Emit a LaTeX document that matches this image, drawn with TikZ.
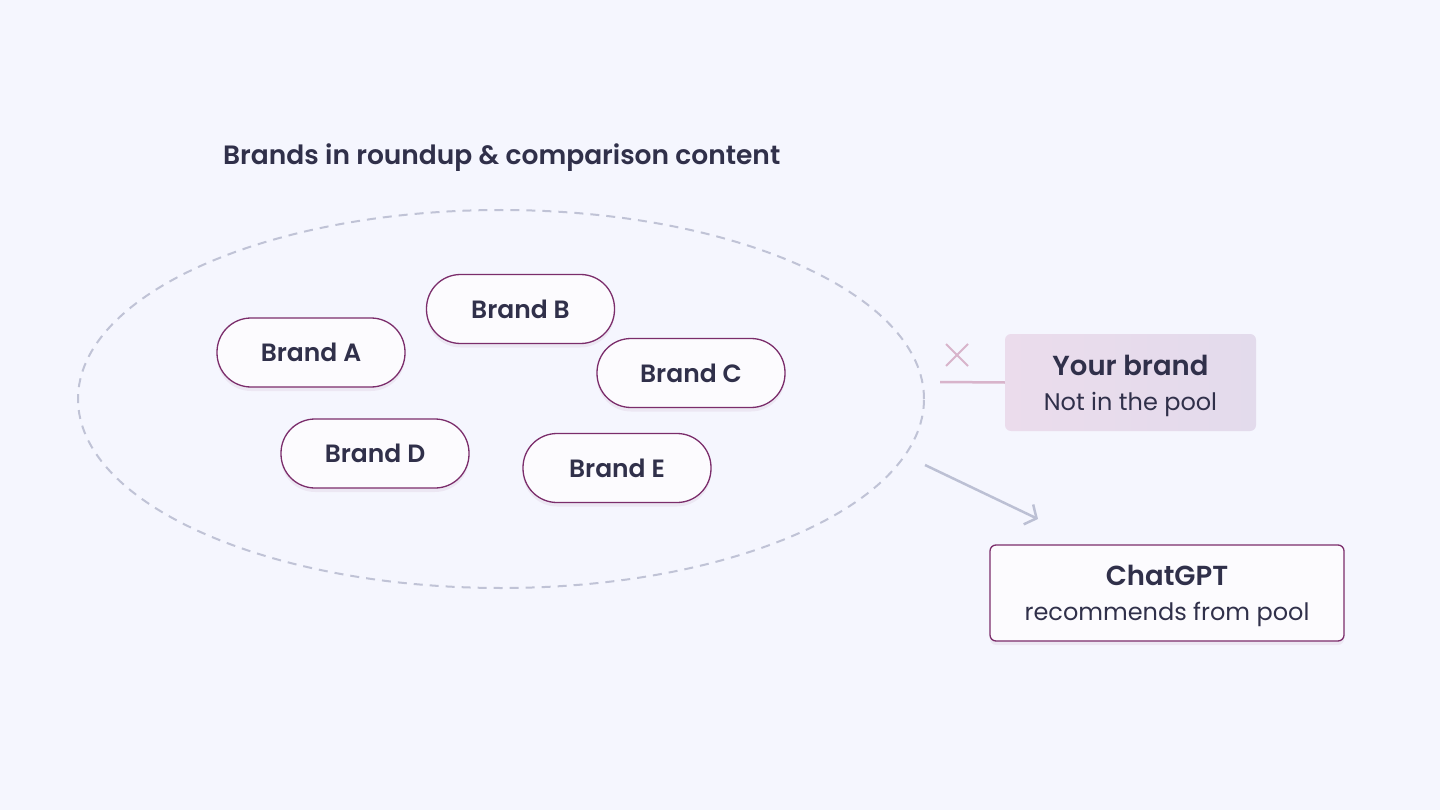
\documentclass[tikz,border=0pt]{standalone}
\usepackage{fontspec}
\setmainfont{Poppins}
\newfontfamily\semib{Poppins SemiBold}
\usetikzlibrary{shapes.geometric,shadows,arrows.meta}
\definecolor{bg}{HTML}{F5F6FE}
\definecolor{ink}{HTML}{30304A}
\definecolor{plum}{HTML}{7B2D6B}
\definecolor{pillfill}{HTML}{FCFBFE}
\definecolor{dashc}{HTML}{C0C3D6}
\definecolor{arrc}{HTML}{BCC0D4}
\definecolor{pinkc}{HTML}{D8B4CB}
\definecolor{yourL}{HTML}{EBDCEC}
\definecolor{yourR}{HTML}{E3DBEC}
\tikzset{
  pill/.style={draw=plum, line width=1.3pt, fill=pillfill, rounded corners=34pt,
    minimum width=188pt, minimum height=69pt, inner sep=0pt, text=ink,
    font=\semib\fontsize{25}{30}\selectfont,
    drop shadow={shadow xshift=0pt, shadow yshift=-4pt, opacity=0.07, fill=plum}},
  pool/.style={ellipse, draw=dashc, line width=2pt, dash pattern=on 9pt off 7pt,
    minimum width=846pt, minimum height=378pt, inner sep=0pt},
  heading/.style={text=ink, font=\semib\fontsize{26.5}{32}\selectfont, inner sep=0pt},
  yourbox/.style={rounded corners=6pt, left color=yourL, right color=yourR,
    minimum width=251pt, minimum height=97pt, inner sep=0pt},
  gptbox/.style={draw=plum, line width=1.3pt, fill=pillfill, rounded corners=6pt,
    minimum width=354pt, minimum height=96pt, inner sep=0pt,
    drop shadow={shadow xshift=0pt, shadow yshift=-4pt, opacity=0.07, fill=plum}},
  boxhead/.style={text=ink, inner sep=0pt, anchor=base, font=\semib\fontsize{27.5}{33}\selectfont},
  boxsub/.style={text=ink, inner sep=0pt, anchor=base, font=\fontsize{24}{29}\selectfont},
  arr/.style={draw=arrc, line width=2.5pt, -{Straight Barb[length=9pt,width=22pt]}},
  pinkline/.style={draw=pinkc, line width=2.5pt},
  xmark/.style={draw=pinkc, line width=2pt},
}
\begin{document}
\begin{tikzpicture}[x=1pt,y=-1pt]
\fill[bg] (0,0) rectangle (1440,810);
\useasboundingbox (0,0) rectangle (1440,810);
\node[heading, anchor=base west] (title) at (223,165) {Brands in roundup \& comparison content};
\node[pool] (pool) at (501,399) {};
\node[pill] (a) at (311,352.5) {Brand A};
\node[pill] (b) at (520.5,309) {Brand B};
\node[pill] (c) at (691,373) {Brand C};
\node[pill] (d) at (375,453.5) {Brand D};
\node[pill] (e) at (617,468) {Brand E};
\node[yourbox] (your) at (1130.5,382.5) {};
\node[boxhead] (yourt) at ([yshift=7.5pt]your.center) {Your brand};
\node[boxsub] (yours) at ([yshift=-27.5pt]your.center) {Not in the pool};
\node[gptbox] (gpt) at (1167,593) {};
\node[boxhead] (gptt) at ([yshift=8pt]gpt.center) {ChatGPT};
\node[boxsub] (gpts) at ([yshift=-27pt]gpt.center) {recommends from pool};
\coordinate (x1) at (946,344);
\coordinate (x2) at (968,366);
\coordinate (x3) at (946,366);
\coordinate (x4) at (968,344);
\draw[xmark] (x1) -- (x2);
\draw[xmark] (x3) -- (x4);
\coordinate (lstart) at (940,382);
\draw[pinkline] (lstart) -- (your.west);
\coordinate (as) at (925,465);
\coordinate (ae) at (1038,519);
\draw[arr] (as) -- (ae);
\end{tikzpicture}
\end{document}
